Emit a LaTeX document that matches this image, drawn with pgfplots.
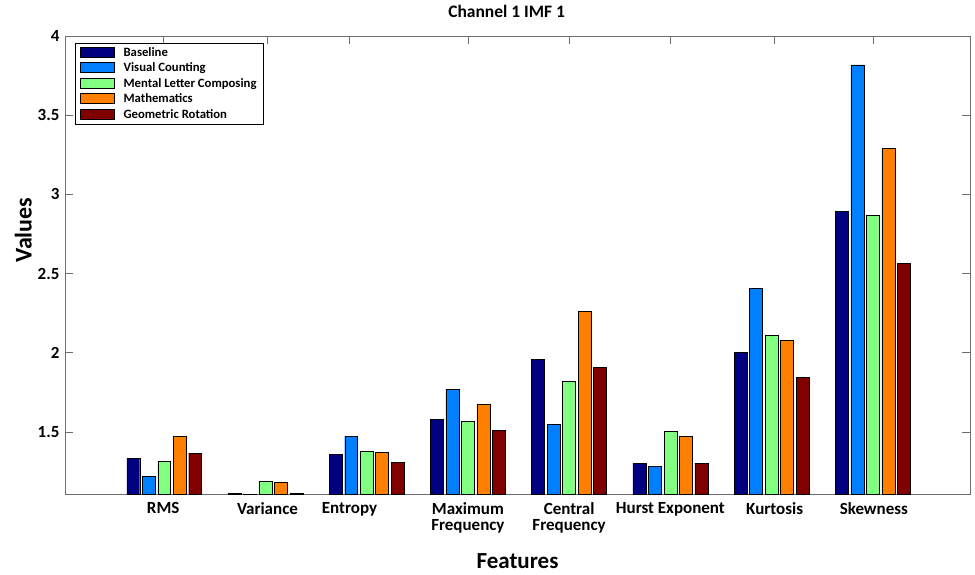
\documentclass[border=0pt]{standalone}
\usepackage{pgfplots}
\pgfplotsset{compat=1.18}
\usepackage{pgfplotstable}
\usepackage{fontspec}
\setmainfont{Carlito}
\definecolor{cBase}{RGB}{0,0,128}
\definecolor{cVis}{RGB}{0,128,255}
\definecolor{cMen}{RGB}{128,255,128}
\definecolor{cMat}{RGB}{255,128,0}
\definecolor{cGeo}{RGB}{128,0,0}
\definecolor{axgray}{RGB}{110,110,110}
\pgfplotstableread{
x b v m h g
1 1.336 1.222 1.317 1.475 1.367
2 1.115 1.050 1.190 1.184 1.115
3 1.361 1.475 1.380 1.374 1.311
4 1.582 1.771 1.570 1.677 1.513
5 1.961 1.550 1.822 2.264 1.910
6 1.304 1.285 1.506 1.475 1.304
7 2.005 2.409 2.112 2.081 1.847
8 2.895 3.817 2.870 3.293 2.567
}\data
\pgfplotsset{mybar/.style={ybar, bar width=0.128, bar shift=0pt, draw=black, line width=0.4pt,
  legend image code/.code={\draw[##1,/tikz/.cd,draw=black,line width=0.4pt] (0pt,-4.5pt) rectangle (34pt,5.5pt);}}}
\begin{document}
\begin{tikzpicture}
\begin{axis}[
  scale only axis, width=905pt, height=458pt,
  xmin=0.02, xmax=8.96, ymin=1.109, ymax=4,
  ytick={1.5,2,2.5,3,3.5,4},
  xtick={0.99,2.02,2.83,4,5,6,7.03,8.01},
  xticklabels={RMS,Variance,Entropy,Maximum\\Frequency,Central\\Frequency,Hurst Exponent,Kurtosis,Skewness},
  /pgf/number format/assume math mode=true,
  yticklabel style={font=\bfseries\fontsize{17}{16}\selectfont, xshift=-2pt},
  xticklabel style={align=center, font=\bfseries\fontsize{17}{16}\selectfont, yshift=-5pt},
  tick align=inside, major tick length=8pt,
  axis line style={draw=axgray, line width=0.8pt},
  every tick/.style={draw=axgray, line width=0.8pt},
  title={Channel 1 IMF 1},
  title style={at={(axis description cs:0.488,1.04)}, anchor=center, font=\bfseries\fontsize{17.5}{17.5}\selectfont},
  xlabel={Features},
  xlabel style={at={(axis description cs:0.5,-0.146)}, anchor=center, font=\bfseries\fontsize{23}{23}\selectfont},
  ylabel={Values},
  ylabel style={at={(axis description cs:-0.046,0.576)}, anchor=center, font=\bfseries\fontsize{24}{24}\selectfont},
  legend style={at={(axis description cs:0.011,0.985)}, anchor=north west, draw=black, line width=0.5pt,
    font=\bfseries\fontsize{12.7}{12.7}\selectfont, row sep=1.2pt, inner xsep=5pt, inner ysep=2pt, cells={anchor=west},
    /tikz/every odd column/.append style={column sep=7pt}},
  legend cell align=left,
]
\coordinate (ll) at (rel axis cs:0,0);
\coordinate (ur) at (rel axis cs:1,1);
\addplot[mybar, fill=cBase] table[x expr=\thisrow{x}-0.306, y=b] {\data};
\addlegendentry{Baseline}
\addplot[mybar, fill=cVis] table[x expr=\thisrow{x}-0.153, y=v] {\data};
\addlegendentry{Visual Counting}
\addplot[mybar, fill=cMen] table[x expr=\thisrow{x}, y=m] {\data};
\addlegendentry{Mental Letter Composing}
\addplot[mybar, fill=cMat] table[x expr=\thisrow{x}+0.153, y=h] {\data};
\addlegendentry{Mathematics}
\addplot[mybar, fill=cGeo] table[x expr=\thisrow{x}+0.306, y=g] {\data};
\addlegendentry{Geometric Rotation}
\end{axis}
\pgfresetboundingbox
\path ([shift={(-65pt,-80pt)}]ll) rectangle ([shift={(5pt,36pt)}]ur);
\end{tikzpicture}
\end{document}
